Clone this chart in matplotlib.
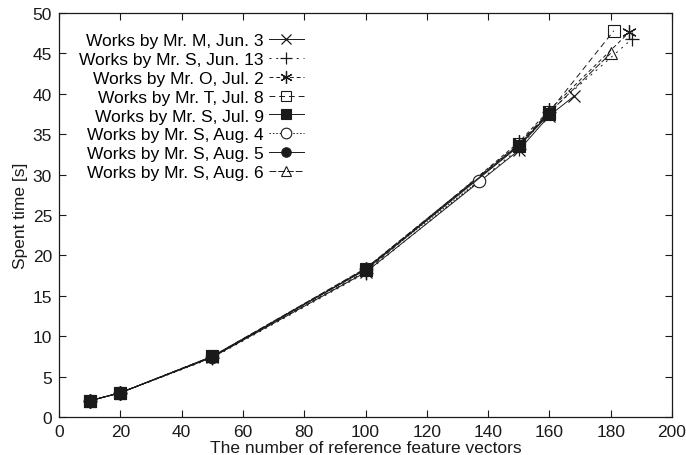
import matplotlib
matplotlib.use("Agg")
import matplotlib.pyplot as plt

plt.rcParams['font.family'] = ['Liberation Sans', 'DejaVu Sans']

labels = ["Works by Mr. M, Jun. 3", "Works by Mr. S, Jun. 13", "Works by Mr. O, Jul. 2",
          "Works by Mr. T, Jul. 8", "Works by Mr. S, Jul. 9", "Works by Mr. S, Aug. 4",
          "Works by Mr. S, Aug. 5", "Works by Mr. S, Aug. 6"]

x_m_jun3 = [10, 20, 50, 100, 150, 160, 168]
y_m_jun3 = [2.0, 3.0, 7.4, 17.9, 33.0, 37.3, 39.7]
x_s_jun13 = [10, 20, 50, 100, 150, 160, 187]
y_s_jun13 = [2.0, 3.0, 7.3, 17.8, 33.2, 37.8, 46.8]
x_o_jul2 = [10, 20, 50, 100, 150, 160, 186]
y_o_jul2 = [2.0, 3.0, 7.4, 18.0, 34.0, 38.0, 47.6]
x_t_jul8 = [10, 20, 50, 100, 150, 160, 181]
y_t_jul8 = [2.0, 3.0, 7.5, 18.3, 33.8, 37.8, 47.8]
x_s_jul9 = [10, 20, 50, 100, 150, 160]
y_s_jul9 = [2.0, 3.0, 7.5, 18.2, 33.5, 37.5]
x_s_aug4 = [10, 20, 50, 100, 137]
y_s_aug4 = [2.0, 3.0, 7.4, 18.3, 29.2]
x_s_aug5 = [10, 20, 50, 100, 150, 160]
y_s_aug5 = [2.0, 3.0, 7.4, 18.3, 33.6, 37.6]
x_s_aug6 = [10, 20, 50, 100, 150, 160, 180]
y_s_aug6 = [2.0, 3.0, 7.5, 18.4, 33.7, 37.7, 45.0]

xs = [x_m_jun3, x_s_jun13, x_o_jul2, x_t_jul8, x_s_jul9, x_s_aug4, x_s_aug5, x_s_aug6]
ys = [y_m_jun3, y_s_jun13, y_o_jul2, y_t_jul8, y_s_jul9, y_s_aug4, y_s_aug5, y_s_aug6]

styles = [
    dict(ls='-', marker='x', ms=9, mew=0.9, mfc='none', z=3),
    dict(ls=(0, (2, 5)), marker='+', ms=10, mew=0.9, mfc='none', z=3),
    dict(ls=(0, (4, 3)), marker=(6, 2, 0), ms=10.5, mew=0.9, mfc='none', z=3),
    dict(ls=(0, (6, 4)), marker='s', ms=8.5, mew=0.8, mfc='none', z=3),
    dict(ls='-', marker='s', ms=8.5, mew=0.8, mfc='#1a1a1a', z=6),
    dict(ls=(0, (1.5, 2)), marker='o', ms=9, mew=0.8, mfc='white', z=4),
    dict(ls='-', marker='o', ms=8, mew=0.8, mfc='#1a1a1a', z=5),
    dict(ls=(0, (7, 2)), marker='^', ms=9, mew=0.8, mfc='none', z=3),
]

fig = plt.figure(figsize=(6.86, 4.56), dpi=100)
ax = fig.add_axes([59/686, 1-418/456, (672-59)/686, (418-14)/456])

for x, y, lab, st in zip(xs, ys, labels, styles):
    ax.plot(x, y, color='#1a1a1a', lw=0.7, ls=st['ls'], marker=st['marker'],
            ms=st['ms'], mew=st['mew'], mfc=st['mfc'], mec='#1a1a1a',
            label=lab, zorder=st['z'])

ax.set_xlim(0, 200)
ax.set_ylim(0, 50)
ax.set_xticks(range(0, 201, 20))
ax.set_yticks(range(0, 51, 5))
ax.tick_params(direction='in', top=True, right=True, length=5, width=0.8,
               labelsize=12.5, colors='#1a1a1a', pad=5)
for s in ax.spines.values():
    s.set_linewidth(0.9)
    s.set_color('#1a1a1a')
ax.set_xlabel("The number of reference feature vectors", fontsize=12.5, labelpad=1, color='#1a1a1a')
ax.set_ylabel("Spent time [s]", fontsize=12.5, labelpad=3, color='#1a1a1a')

leg = ax.legend(loc='upper right', bbox_to_anchor=(0.399, 0.95), frameon=False,
                markerfirst=False, handlelength=2.0, handletextpad=0.3,
                labelspacing=0.21, fontsize=12.5, borderpad=0.0, borderaxespad=0.0,
                markerscale=0.85)
for vp in leg._legend_handle_box.get_children():
    vp.align = 'right'

fig.savefig("out.png", dpi=100)
